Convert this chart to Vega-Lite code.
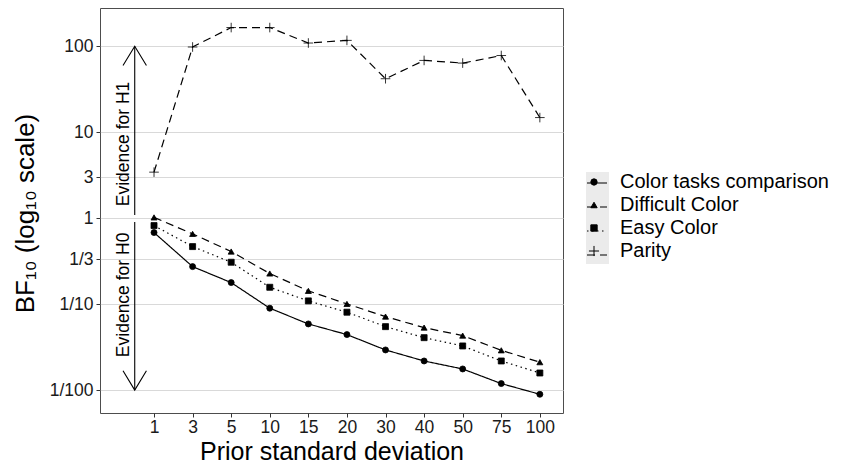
{
  "$schema": "https://vega.github.io/schema/vega-lite/v6.json",
  "width": 463,
  "height": 405,
  "autosize": {"type": "none"},
  "padding": {"left": 100, "top": 8, "right": 282, "bottom": 51},
  "background": "white",
  "config": {
    "view": {"stroke": "#4d4d4d", "strokeWidth": 1},
    "font": "Liberation Sans",
    "axis": {"labelFont": "Liberation Sans", "titleFont": "Liberation Sans", "titleFontWeight": "normal"},
    "legend": {"labelFont": "Liberation Sans", "labelLimit": 400}
  },
  "datasets": {
    "bf": [
      {"series": "Color tasks comparison", "sd": "1", "idx": 1, "bf": 0.68},
      {"series": "Color tasks comparison", "sd": "3", "idx": 2, "bf": 0.273},
      {"series": "Color tasks comparison", "sd": "5", "idx": 3, "bf": 0.178},
      {"series": "Color tasks comparison", "sd": "10", "idx": 4, "bf": 0.0896},
      {"series": "Color tasks comparison", "sd": "15", "idx": 5, "bf": 0.0588},
      {"series": "Color tasks comparison", "sd": "20", "idx": 6, "bf": 0.0442},
      {"series": "Color tasks comparison", "sd": "30", "idx": 7, "bf": 0.0293},
      {"series": "Color tasks comparison", "sd": "40", "idx": 8, "bf": 0.0218},
      {"series": "Color tasks comparison", "sd": "50", "idx": 9, "bf": 0.0176},
      {"series": "Color tasks comparison", "sd": "75", "idx": 10, "bf": 0.0119},
      {"series": "Color tasks comparison", "sd": "100", "idx": 11, "bf": 0.00893},
      {"series": "Difficult Color", "sd": "1", "idx": 1, "bf": 1.02},
      {"series": "Difficult Color", "sd": "3", "idx": 2, "bf": 0.656},
      {"series": "Difficult Color", "sd": "5", "idx": 3, "bf": 0.409},
      {"series": "Difficult Color", "sd": "10", "idx": 4, "bf": 0.227},
      {"series": "Difficult Color", "sd": "15", "idx": 5, "bf": 0.1425},
      {"series": "Difficult Color", "sd": "20", "idx": 6, "bf": 0.1005},
      {"series": "Difficult Color", "sd": "30", "idx": 7, "bf": 0.0716},
      {"series": "Difficult Color", "sd": "40", "idx": 8, "bf": 0.0533},
      {"series": "Difficult Color", "sd": "50", "idx": 9, "bf": 0.043},
      {"series": "Difficult Color", "sd": "75", "idx": 10, "bf": 0.029},
      {"series": "Difficult Color", "sd": "100", "idx": 11, "bf": 0.0211},
      {"series": "Easy Color", "sd": "1", "idx": 1, "bf": 0.82},
      {"series": "Easy Color", "sd": "3", "idx": 2, "bf": 0.467},
      {"series": "Easy Color", "sd": "5", "idx": 3, "bf": 0.307},
      {"series": "Easy Color", "sd": "10", "idx": 4, "bf": 0.157},
      {"series": "Easy Color", "sd": "15", "idx": 5, "bf": 0.109},
      {"series": "Easy Color", "sd": "20", "idx": 6, "bf": 0.0805},
      {"series": "Easy Color", "sd": "30", "idx": 7, "bf": 0.0547},
      {"series": "Easy Color", "sd": "40", "idx": 8, "bf": 0.0407},
      {"series": "Easy Color", "sd": "50", "idx": 9, "bf": 0.0326},
      {"series": "Easy Color", "sd": "75", "idx": 10, "bf": 0.0218},
      {"series": "Easy Color", "sd": "100", "idx": 11, "bf": 0.0158},
      {"series": "Parity", "sd": "1", "idx": 1, "bf": 3.43},
      {"series": "Parity", "sd": "3", "idx": 2, "bf": 98},
      {"series": "Parity", "sd": "5", "idx": 3, "bf": 165},
      {"series": "Parity", "sd": "10", "idx": 4, "bf": 165},
      {"series": "Parity", "sd": "15", "idx": 5, "bf": 109},
      {"series": "Parity", "sd": "20", "idx": 6, "bf": 117},
      {"series": "Parity", "sd": "30", "idx": 7, "bf": 41.9},
      {"series": "Parity", "sd": "40", "idx": 8, "bf": 68.4},
      {"series": "Parity", "sd": "50", "idx": 9, "bf": 63.7},
      {"series": "Parity", "sd": "75", "idx": 10, "bf": 78},
      {"series": "Parity", "sd": "100", "idx": 11, "bf": 14.8}
    ],
    "arrows": [
      {"x": 0.5, "from": 1.09, "to": 100},
      {"x": 0.5, "from": 0.905, "to": 0.01}
    ],
    "headUp": [{"x": 0.5, "y": 100}],
    "headDown": [{"x": 0.5, "y": 0.01}],
    "notes": [
      {"x": 0.21, "y": 7.3, "text": "Evidence for H1"},
      {"x": 0.21, "y": 0.128, "text": "Evidence for H0"}
    ]
  },
  "encoding": {
    "x": {
      "type": "quantitative",
      "scale": {"domain": [-0.4, 11.6], "nice": false, "zero": false},
      "axis": {
        "title": "Prior standard deviation",
        "values": [1, 2, 3, 4, 5, 6, 7, 8, 9, 10, 11],
        "labelExpr": "['','1','3','5','10','15','20','30','40','50','75','100'][datum.value]",
        "grid": false,
        "domain": false,
        "tickColor": "#333333",
        "tickSize": 4,
        "labelFontSize": 17.5,
        "labelColor": "#1a1a1a",
        "labelPadding": 1.5,
        "titleFontSize": 25,
        "titleColor": "#000000",
        "titleBaseline": "alphabetic",
        "titleY": 46.5
      }
    },
    "y": {
      "type": "quantitative",
      "scale": {"type": "log", "domain": [0.00541, 278.6], "nice": false},
      "axis": {
        "title": "BF₁₀ (log₁₀ scale)",
        "values": [0.01, 0.1, 0.3333333333, 1, 3, 10, 100],
        "labelExpr": "datum.value >= 1 ? format(datum.value, 'd') : '1/' + format(1 / datum.value, '.0f')",
        "grid": true,
        "gridColor": "#d9d9d9",
        "gridWidth": 1,
        "domain": false,
        "tickColor": "#333333",
        "tickSize": 4,
        "labelFontSize": 17.5,
        "labelColor": "#1a1a1a",
        "labelPadding": 3,
        "titleFontSize": 26,
        "titleColor": "#000000",
        "titleAngle": 270,
        "titleAlign": "center",
        "titleBaseline": "alphabetic",
        "titleX": -67,
        "titleY": 205
      }
    }
  },
  "layer": [
    {
      "data": {"name": "arrows"},
      "mark": {"type": "rule", "color": "black", "strokeWidth": 1.1},
      "encoding": {
        "x": {"field": "x", "type": "quantitative"},
        "y": {"field": "from", "type": "quantitative"},
        "y2": {"field": "to"}
      }
    },
    {
      "data": {"name": "headUp"},
      "mark": {"type": "point", "shape": "M -1 1.65 L 0 0 L 1 1.65", "filled": false, "stroke": "black", "strokeWidth": 1.1, "size": 548, "opacity": 1},
      "encoding": {
        "x": {"field": "x", "type": "quantitative"},
        "y": {"field": "y", "type": "quantitative"}
      }
    },
    {
      "data": {"name": "headDown"},
      "mark": {"type": "point", "shape": "M -1 -1.65 L 0 0 L 1 -1.65", "filled": false, "stroke": "black", "strokeWidth": 1.1, "size": 548, "opacity": 1},
      "encoding": {
        "x": {"field": "x", "type": "quantitative"},
        "y": {"field": "y", "type": "quantitative"}
      }
    },
    {
      "data": {"name": "notes"},
      "mark": {"type": "text", "angle": 270, "fontSize": 17.5, "font": "Liberation Sans", "align": "center", "baseline": "middle", "color": "black"},
      "encoding": {
        "x": {"field": "x", "type": "quantitative"},
        "y": {"field": "y", "type": "quantitative"},
        "text": {"field": "text"}
      }
    },
    {
      "data": {"name": "bf"},
      "mark": {"type": "line", "color": "black", "strokeWidth": 1.2},
      "encoding": {
        "x": {"field": "idx", "type": "quantitative"},
        "y": {"field": "bf", "type": "quantitative"},
        "strokeDash": {
          "field": "series",
          "type": "nominal",
          "scale": {"range": [[1, 0], [8, 5], [1.5, 3.5], [8, 5]]},
          "legend": {
            "orient": "none", "legendX": 486, "legendY": 164, "title": null,
            "symbolType": "stroke", "symbolSize": 400, "symbolStrokeWidth": 1.2, "symbolStrokeColor": "black",
            "symbolOffset": 0, "labelExpr": "''", "labelOpacity": 0, "labelFontSize": 20, "rowPadding": 3, "padding": 0, "zindex": 1
          }
        }
      }
    },
    {
      "data": {"name": "bf"},
      "mark": {"type": "point", "filled": true, "strokeWidth": 0.8, "size": 36, "opacity": 1},
      "encoding": {
        "x": {"field": "idx", "type": "quantitative"},
        "y": {"field": "bf", "type": "quantitative"},
        "fill": {
          "field": "series",
          "type": "nominal",
          "scale": {"range": ["black", "black", "black", "black"]},
          "legend": null
        },
        "stroke": {
          "field": "series",
          "type": "nominal",
          "scale": {"range": ["black", "black", "black", "black"]},
          "legend": null
        },
        "shape": {
          "field": "series",
          "type": "nominal",
          "scale": {
            "domain": ["Color tasks comparison", "Difficult Color", "Easy Color", "Parity"],
            "range": ["circle", "triangle-up", "square", "M -1.6 0 L 1.6 0 M 0 -1.6 L 0 1.6"]
          },
          "legend": {
            "orient": "none", "legendX": 486, "legendY": 164, "title": null,
            "symbolSize": 40, "symbolStrokeWidth": 1, "symbolOffset": -2,
            "symbolFillColor": "black", "symbolStrokeColor": "black",
            "labelOffset": 16, "labelFontSize": 20, "labelColor": "black", "rowPadding": 3, "padding": 0, "zindex": 2
          }
        },
        "opacity": {
          "field": "series",
          "type": "nominal",
          "scale": {
            "domain": ["Parity", "Easy Color", "Difficult Color", "Color tasks comparison"],
            "range": [1, 1, 1, 1]
          },
          "legend": {
            "orient": "none", "legendX": 486, "legendY": 164, "title": null,
            "symbolType": "square", "symbolSize": 529, "symbolStrokeWidth": 0,
            "symbolFillColor": "#ebebeb", "symbolStrokeColor": "transparent",
            "labelExpr": "''", "labelOpacity": 0, "labelFontSize": 20, "rowPadding": 0, "padding": 0, "zindex": 0
          }
        }
      }
    }
  ]
}
